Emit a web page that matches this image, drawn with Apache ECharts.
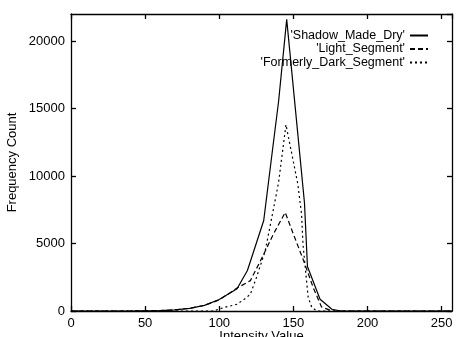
<!DOCTYPE html>
<html>
<head>
<meta charset="utf-8">
<script src="https://cdn.jsdelivr.net/npm/echarts@6/dist/echarts.min.js"></script>
<style>
  html, body { margin: 0; padding: 0; background: #fff; }
  #chart { width: 457px; height: 337px; }
</style>
</head>
<body>
<div id="chart"></div>
<script>
const xTicks = [0, 50, 100, 150, 200, 250];
const yTicks = [0, 5000, 10000, 15000, 20000];

// [intensity, count] pairs
const shadowMadeDry = [
  [0, 0], [40, 0], [60, 30], [70, 80], [80, 200], [90, 420], [100, 850],
  [112, 1650], [119, 3000], [130, 6700], [136, 12000], [140, 15500],
  [145.5, 21600], [154.5, 11400], [157.5, 8000], [159.5, 3300],
  [168, 870], [176, 130], [182, 0], [257, 0]
];
const lightSegment = [
  [0, 0], [40, 0], [60, 30], [70, 80], [80, 200], [90, 420], [100, 820],
  [112, 1700], [121, 2250], [130, 4200], [136.5, 5700], [144.5, 7300],
  [150, 5700], [157, 3700], [163.5, 1700], [169, 300], [176, 0], [257, 0]
];
const formerlyDarkSegment = [
  [0, 0], [96, 0], [103, 250], [112, 500], [118.5, 1000], [121, 1250],
  [125, 2450], [131, 4450], [137, 7800], [140, 9500], [145, 13800],
  [153, 9400], [155.5, 7200], [156.5, 4900], [160, 1000], [162.5, 250],
  [166, 0], [257, 0]
];

const names = ["'Shadow_Made_Dry'", "'Light_Segment'", "'Formerly_Dark_Segment'"];
const dashes = ['solid', [5, 3], [2, 3]];
const seriesData = [shadowMadeDry, lightSegment, formerlyDarkSegment];

const font = 'Liberation Sans, Arial, sans-serif';
const ink = '#000';

const chart = echarts.init(document.getElementById('chart'));

const axisCommon = {
  axisLine: { show: true, onZero: false, lineStyle: { color: ink, width: 1.3 } },
  axisTick: { show: true, inside: true, length: 5, lineStyle: { color: ink, width: 1.3 } },
  splitLine: { show: false }
};

chart.setOption({
  animation: false,
  backgroundColor: '#fff',
  grid: { left: 71, right: 5, top: 14, bottom: 26, outerBoundsMode: 'none', containLabel: false },
  legend: names.map((n, i) => ({
    data: [n],
    right: 28,
    top: 29 + i * 13.5,
    align: 'right',
    itemWidth: 18,
    itemHeight: 10,
    itemGap: 4,
    padding: 0,
    itemStyle: { opacity: 0 },
    textStyle: { fontFamily: font, fontSize: 12.5, color: ink }
  })),
  xAxis: [
    Object.assign({}, axisCommon, {
      type: 'value', min: 0, max: 257, interval: 50,
      name: 'Intensity Value', nameLocation: 'middle', nameGap: 19,
      nameMoveOverlap: false,
      nameTextStyle: { fontFamily: font, fontSize: 13, color: ink },
      axisLabel: {
        fontFamily: font, fontSize: 13, color: ink, margin: 6,
        showMaxLabel: false,
        formatter: v => xTicks.includes(v) ? String(v) : ''
      }
    }),
    Object.assign({}, axisCommon, {
      type: 'value', min: 0, max: 257, interval: 50, position: 'top',
      axisLabel: { show: false }
    })
  ],
  yAxis: [
    Object.assign({}, axisCommon, {
      type: 'value', min: 0, max: 22000, interval: 5000,
      name: 'Frequency Count', nameLocation: 'middle', nameGap: 52,
      nameMoveOverlap: false,
      nameTextStyle: { fontFamily: font, fontSize: 13, color: ink },
      axisLabel: {
        fontFamily: font, fontSize: 13, color: ink, margin: 6,
        showMaxLabel: false,
        formatter: v => yTicks.includes(v) ? String(v) : ''
      }
    }),
    Object.assign({}, axisCommon, {
      type: 'value', min: 0, max: 22000, interval: 5000, position: 'right',
      axisLabel: { show: false }
    })
  ],
  series: seriesData.map((d, i) => ({
    name: names[i],
    type: 'line',
    data: d,
    symbol: 'none',
    lineStyle: { color: ink, width: 1.2, type: dashes[i] },
    itemStyle: { color: ink }
  }))
});
</script>
</body>
</html>
